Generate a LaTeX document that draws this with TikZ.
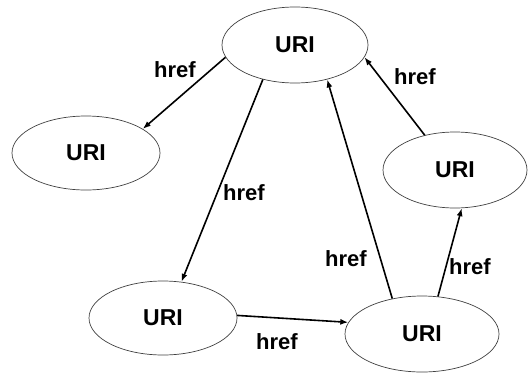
\documentclass[tikz,border=0pt]{standalone}
\usepackage{fontspec}
\setmainfont{Liberation Sans}
\usetikzlibrary{shapes.geometric,arrows.meta}
\begin{document}
\begin{tikzpicture}[x=1pt,y=-1pt,
  uri/.style={ellipse,draw=black!75,line width=0.7pt,inner sep=0pt,font=\fontsize{23}{23}\selectfont\bfseries},
  lbl/.style={inner sep=0pt,font=\fontsize{22}{22}\selectfont\bfseries},
  arr/.style={line width=1.6pt,-{Latex[length=8pt,width=6pt]}}]
\useasboundingbox (0,0) rectangle (529,372);
\node[uri,minimum width=146pt,minimum height=76pt] (top) at (295,45) {URI};
\node[uri,minimum width=148pt,minimum height=74pt] (left) at (86,153) {URI};
\node[uri,minimum width=144pt,minimum height=76pt] (right) at (455,170) {URI};
\node[uri,minimum width=148pt,minimum height=74pt] (bl) at (163,318) {URI};
\node[uri,minimum width=154pt,minimum height=76pt] (br) at (422,334) {URI};
\node[lbl] (l1) at (175,70) {href};
\node[lbl] (l2) at (415,77) {href};
\node[lbl] (l3) at (244,193) {href};
\node[lbl] (l4) at (346,259) {href};
\node[lbl] (l5) at (470,267) {href};
\node[lbl] (l6) at (277,342) {href};
\draw[arr] (top.190) -- (left.23);
\draw[arr] (top.227) -- (bl.63);
\draw[arr] (br.130) -- (top.313);
\draw[arr] (right.131) -- (top.350);
\draw[arr] (br.67) -- (right.280);
\draw[arr] (bl.2) -- (br.171);
\end{tikzpicture}
\end{document}
